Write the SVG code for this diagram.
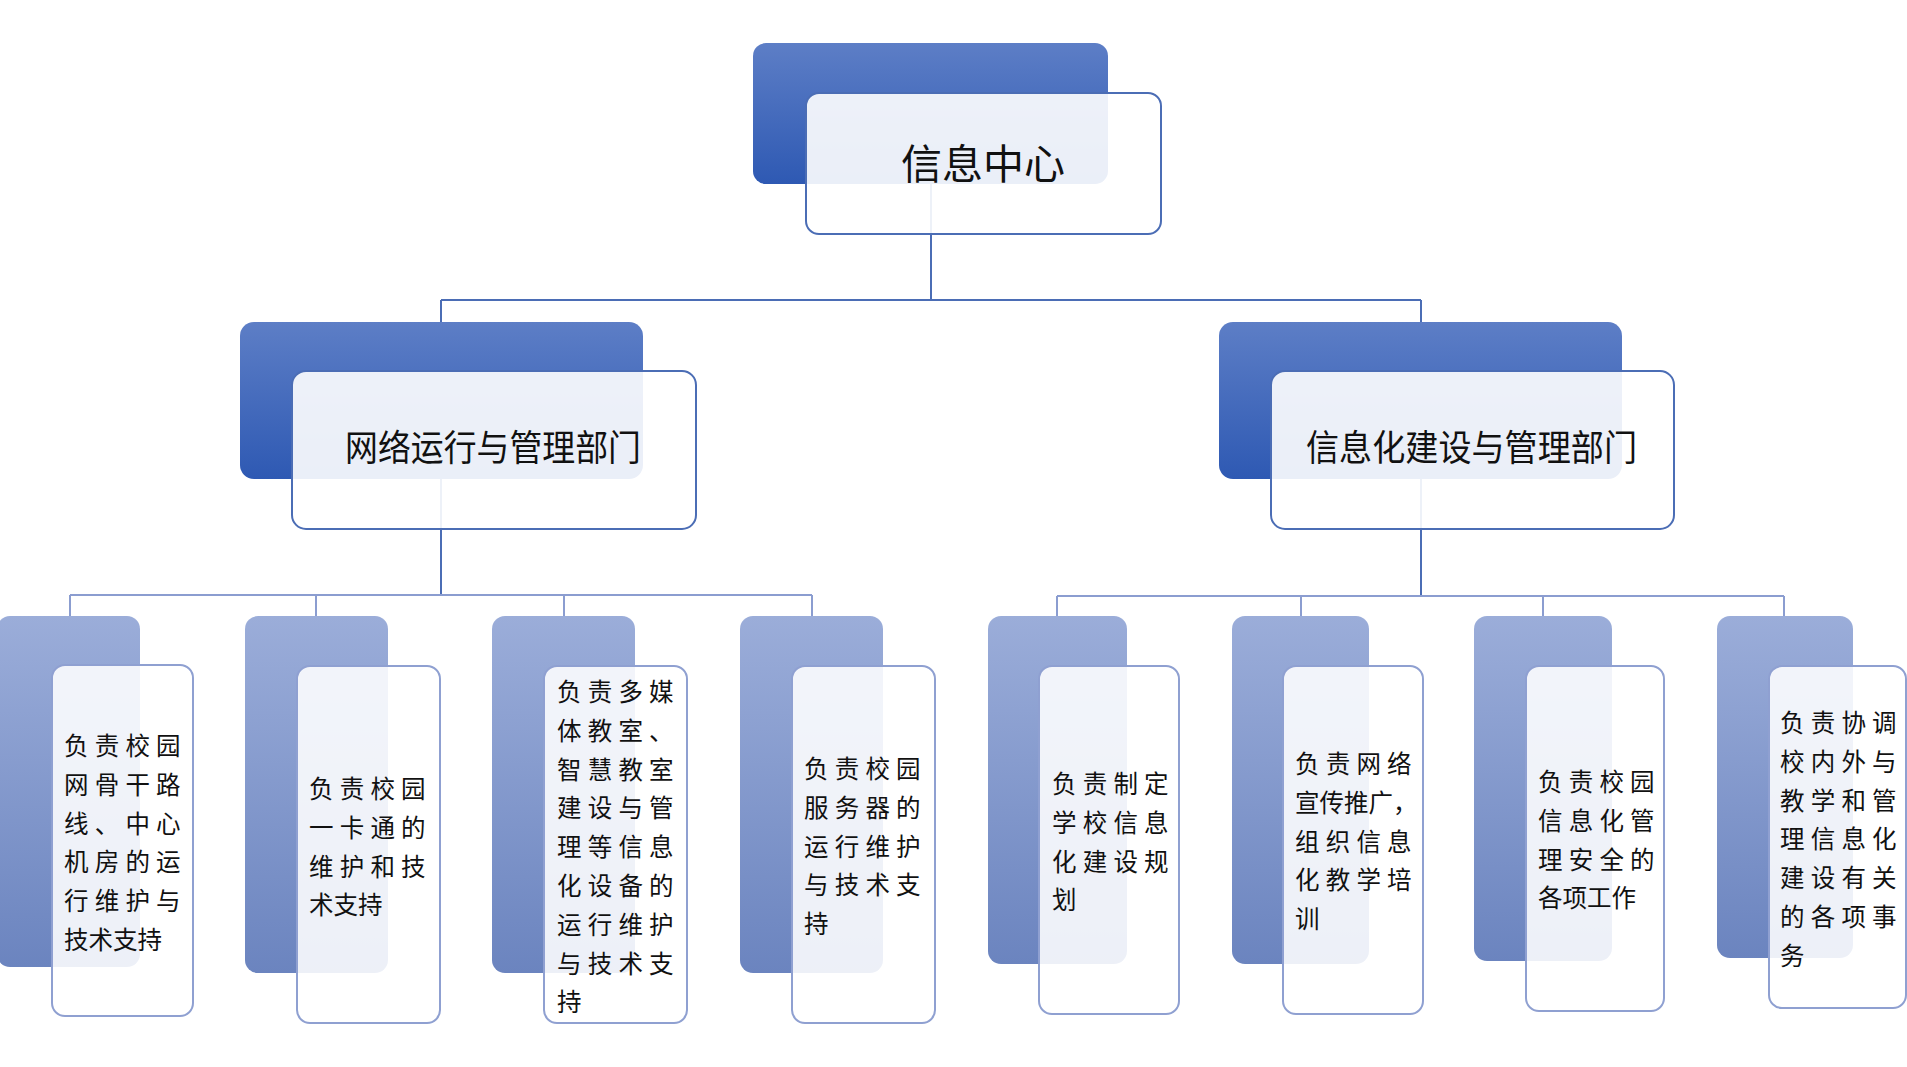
<svg xmlns="http://www.w3.org/2000/svg" width="1907" height="1067" viewBox="0 0 1907 1067">
<defs>
<linearGradient id="gBig" x1="0" y1="0" x2="0" y2="1">
<stop offset="0" stop-color="#5d7ec6"/>
<stop offset="1" stop-color="#2e59b3"/>
</linearGradient>
<linearGradient id="gLeaf" x1="0" y1="0" x2="0" y2="1">
<stop offset="0" stop-color="#9badd9"/>
<stop offset="1" stop-color="#6b84bf"/>
</linearGradient>
<style>
.bb{fill:url(#gBig)}
.bf{fill:#fff;fill-opacity:.9;stroke:#4b6db5;stroke-width:2}
.lb{fill:url(#gLeaf)}
.lf{fill:#fff;fill-opacity:.88;stroke:#8fa0d1;stroke-width:2}
.c1{fill:none;stroke:#4b6db5;stroke-width:2}
.c2{fill:none;stroke:#8b9dd0;stroke-width:2}
.t{font-family:"Noto Sans CJK SC","Noto Sans CJK JP",sans-serif;fill:#111}
.tl{font-size:24.5px}
.sp{letter-spacing:6.2px}
</style>
</defs>
<rect width="1907" height="1067" fill="#fff"/>
<g id="connectors">
<path class="c1" d="M931 165V300M441 300H1421M441 300V595M1421 300V596"/>
<path class="c2" d="M70 595H812M70 595V616M316 595V616M564 595V616M812 595V616"/>
<path class="c2" d="M1057 596H1784M1057 596V616M1301 596V616M1543 596V616M1784 596V616"/>
</g>
<g id="n0">
<rect class="bb" x="753" y="43" width="355" height="141" rx="13"/>
<rect class="bf" x="806" y="93" width="355" height="141" rx="13"/>
<text class="t" x="983" y="179" font-size="41" text-anchor="middle" style="font-size:41px">信息中心</text>
</g>
<g id="n1">
<rect class="bb" x="240" y="322" width="403" height="157" rx="14"/>
<rect class="bf" x="292" y="371" width="404" height="158" rx="14"/>
<text class="t" x="345" y="461" font-size="36" textLength="296" lengthAdjust="spacingAndGlyphs" style="font-size:36px">网络运行与管理部门</text>
</g>
<g id="n2">
<rect class="bb" x="1219" y="322" width="403" height="157" rx="14"/>
<rect class="bf" x="1271" y="371" width="403" height="158" rx="14"/>
<text class="t" x="1306" y="461" font-size="36" textLength="331" lengthAdjust="spacingAndGlyphs" style="font-size:36px">信息化建设与管理部门</text>
</g>
<g id="l1">
<rect class="lb" x="-3" y="616" width="143" height="351" rx="13"/>
<rect class="lf" x="52" y="665" width="141" height="351" rx="13"/>
<text class="t tl" y="755"><tspan class="sp" x="64">负责校园</tspan><tspan class="sp" x="64" dy="38.8">网骨干路</tspan><tspan class="sp" x="64" dy="38.8">线、中心</tspan><tspan class="sp" x="64" dy="38.8">机房的运</tspan><tspan class="sp" x="64" dy="38.8">行维护与</tspan><tspan x="64" dy="38.8">技术支持</tspan></text>
</g>
<g id="l2">
<rect class="lb" x="245" y="616" width="143" height="357" rx="13"/>
<rect class="lf" x="297" y="666" width="143" height="357" rx="13"/>
<text class="t tl" y="798"><tspan class="sp" x="309">负责校园</tspan><tspan class="sp" x="309" dy="38.8">一卡通的</tspan><tspan class="sp" x="309" dy="38.8">维护和技</tspan><tspan x="309" dy="38.8">术支持</tspan></text>
</g>
<g id="l3">
<rect class="lb" x="492" y="616" width="143" height="357" rx="13"/>
<rect class="lf" x="544" y="666" width="143" height="357" rx="13"/>
<text class="t tl" y="701"><tspan class="sp" x="557">负责多媒</tspan><tspan class="sp" x="557" dy="38.8">体教室、</tspan><tspan class="sp" x="557" dy="38.8">智慧教室</tspan><tspan class="sp" x="557" dy="38.8">建设与管</tspan><tspan class="sp" x="557" dy="38.8">理等信息</tspan><tspan class="sp" x="557" dy="38.8">化设备的</tspan><tspan class="sp" x="557" dy="38.8">运行维护</tspan><tspan class="sp" x="557" dy="38.8">与技术支</tspan><tspan x="557" dy="38.8">持</tspan></text>
</g>
<g id="l4">
<rect class="lb" x="740" y="616" width="143" height="357" rx="13"/>
<rect class="lf" x="792" y="666" width="143" height="357" rx="13"/>
<text class="t tl" y="778"><tspan class="sp" x="804">负责校园</tspan><tspan class="sp" x="804" dy="38.8">服务器的</tspan><tspan class="sp" x="804" dy="38.8">运行维护</tspan><tspan class="sp" x="804" dy="38.8">与技术支</tspan><tspan x="804" dy="38.8">持</tspan></text>
</g>
<g id="l5">
<rect class="lb" x="988" y="616" width="139" height="348" rx="13"/>
<rect class="lf" x="1039" y="666" width="140" height="348" rx="13"/>
<text class="t tl" y="793"><tspan class="sp" x="1052">负责制定</tspan><tspan class="sp" x="1052" dy="38.8">学校信息</tspan><tspan class="sp" x="1052" dy="38.8">化建设规</tspan><tspan x="1052" dy="38.8">划</tspan></text>
</g>
<g id="l6">
<rect class="lb" x="1232" y="616" width="137" height="348" rx="13"/>
<rect class="lf" x="1283" y="666" width="140" height="348" rx="13"/>
<text class="t tl" y="773"><tspan class="sp" x="1295">负责网络</tspan><tspan x="1295" dy="38.8">宣传推广，</tspan><tspan class="sp" x="1295" dy="38.8">组织信息</tspan><tspan class="sp" x="1295" dy="38.8">化教学培</tspan><tspan x="1295" dy="38.8">训</tspan></text>
</g>
<g id="l7">
<rect class="lb" x="1474" y="616" width="138" height="345" rx="13"/>
<rect class="lf" x="1526" y="666" width="138" height="345" rx="13"/>
<text class="t tl" y="791"><tspan class="sp" x="1538">负责校园</tspan><tspan class="sp" x="1538" dy="38.8">信息化管</tspan><tspan class="sp" x="1538" dy="38.8">理安全的</tspan><tspan x="1538" dy="38.8">各项工作</tspan></text>
</g>
<g id="l8">
<rect class="lb" x="1717" y="616" width="136" height="342" rx="13"/>
<rect class="lf" x="1769" y="666" width="137" height="342" rx="13"/>
<text class="t tl" y="732"><tspan class="sp" x="1780">负责协调</tspan><tspan class="sp" x="1780" dy="38.8">校内外与</tspan><tspan class="sp" x="1780" dy="38.8">教学和管</tspan><tspan class="sp" x="1780" dy="38.8">理信息化</tspan><tspan class="sp" x="1780" dy="38.8">建设有关</tspan><tspan class="sp" x="1780" dy="38.8">的各项事</tspan><tspan x="1780" dy="38.8">务</tspan></text>
</g>
</svg>
